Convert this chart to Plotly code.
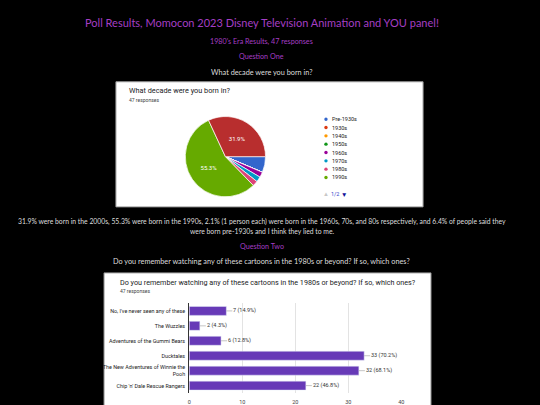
import plotly.graph_objects as go

W, H = 540, 405

# ---------------- Page texts ----------------
page_title = "Poll Results, Momocon 2023 Disney Television Animation and YOU panel!"
era_line = "1980's Era Results, 47 responses"
q1_heading = "Question One"
q1_text = "What decade were you born in?"
summary_lines = [
    "31.9% were born in the 2000s, 55.3% were born in the 1990s, 2.1% (1 person each) were born in the 1960s, 70s, and 80s respectively, and 6.4% of people said they",
    "were born pre-1930s and I think they lied to me.",
]
q2_heading = "Question Two"
q2_text = "Do you remember watching any of these cartoons in the 1980s or beyond? If so, which ones?"

# ---------------- Question 1 data ----------------
q1_chart_title = "What decade were you born in?"
responses_label = "47 responses"
total_responses = 47
decades = ["Pre-1930s", "1930s", "1940s", "1950s", "1960s", "1970s", "1980s", "1990s", "2000s"]
decade_counts = [3, 0, 0, 0, 1, 1, 1, 26, 15]
decade_colors = ["#3366cc", "#dc3912", "#ff9900", "#109618", "#990099",
                 "#0099c6", "#dd4477", "#66aa00", "#b82e2e"]
legend_page = "1/2"

# ---------------- Question 2 data ----------------
q2_chart_title = "Do you remember watching any of these cartoons in the 1980s or beyond? If so, which ones?"
cartoons = [
    "No, I've never seen any of these",
    "The Wuzzles",
    "Adventures of the Gummi Bears",
    "Ducktales",
    "The New Adventures of Winnie the<br>Pooh",
    "Chip 'n' Dale Rescue Rangers",
]
cartoon_counts = [7, 2, 6, 33, 32, 22]
x_ticks = [0, 10, 20, 30, 40]

PURPLE = "#a53ec4"
PAGE_FONT = "Lato"
CHART_FONT = "Roboto"


def px(x):
    return x / W


def py(y):
    return 1 - y / H


fig = go.Figure()

# Pie chart
pie_text = [f"{c / total_responses * 100:.1f}%" if c / total_responses > 0.1 else "" for c in decade_counts]
fig.add_trace(go.Pie(
    labels=decades, values=decade_counts, sort=False, direction="clockwise", rotation=90,
    marker=dict(colors=decade_colors, line=dict(color="white", width=0.7)),
    text=pie_text, textinfo="text", textposition="inside", insidetextorientation="horizontal",
    insidetextfont=dict(color="white", size=6, family=CHART_FONT),
    showlegend=False, hoverinfo="label+percent",
    domain=dict(x=[px(185), px(266)], y=[py(200), py(118)]),
))

# Bar chart
fig.add_trace(go.Bar(
    x=cartoon_counts, y=cartoons, orientation="h", width=0.6,
    marker=dict(color="#673ab7"), showlegend=False,
))

shapes = []
annotations = []

# White panels
shapes.append(dict(type="rect", xref="paper", yref="paper", x0=px(115), x1=px(425), y0=py(210), y1=py(83),
                   fillcolor="white", line=dict(color="#9a9a9a", width=1), layer="below"))
shapes.append(dict(type="rect", xref="paper", yref="paper", x0=px(103), x1=px(433), y0=py(420), y1=py(277),
                   fillcolor="white", line=dict(color="#9a9a9a", width=1), layer="below"))


def page_text(txt, y, size, color, x=262):
    annotations.append(dict(text=txt, x=px(x), y=py(y), xref="paper", yref="paper", showarrow=False,
                            xanchor="center", yanchor="middle",
                            font=dict(family=PAGE_FONT, size=size, color=color)))


page_text(page_title, 22.7, 11, PURPLE)
page_text(era_line, 41.7, 7.2, PURPLE)
page_text(q1_heading, 57.7, 7.2, PURPLE)
page_text(q1_text, 73.3, 7.3, "#dddddd")
page_text(summary_lines[0], 224.7, 6.8, "#dddddd")
page_text(summary_lines[1], 234.2, 6.8, "#dddddd")
page_text(q2_heading, 249.7, 7.2, PURPLE)
page_text(q2_text, 265.7, 7.3, "#dddddd")


def chart_text(txt, x, y, size, color):
    annotations.append(dict(text=txt, x=px(x), y=py(y), xref="paper", yref="paper", showarrow=False,
                            xanchor="left", yanchor="middle",
                            font=dict(family=CHART_FONT, size=size, color=color)))


chart_text(q1_chart_title, 126, 92, 7.3, "#202124")
chart_text(responses_label, 126, 101, 5, "#444444")
chart_text(q2_chart_title, 117, 287, 7.2, "#202124")
chart_text(responses_label, 117, 295.5, 5, "#444444")

# Manual legend for the pie (first page)
for i, (lab, col) in enumerate(zip(decades[:8], decade_colors[:8])):
    cy = 121 + i * 8.45
    shapes.append(dict(type="circle", xref="paper", yref="paper",
                       x0=px(325.3), x1=px(328.7), y0=py(cy + 1.7), y1=py(cy - 1.7),
                       fillcolor=col, line=dict(width=0)))
    chart_text(lab, 331, cy, 5.5, "#222222")

annotations.append(dict(text="▲", x=px(327), y=py(197), xref="paper", yref="paper", showarrow=False,
                        font=dict(size=6, color="#c8c8c8")))
annotations.append(dict(text=legend_page, x=px(336), y=py(197), xref="paper", yref="paper", showarrow=False,
                        font=dict(size=5.5, color="#3344cc", family=CHART_FONT)))
annotations.append(dict(text="▼", x=px(345), y=py(197), xref="paper", yref="paper", showarrow=False,
                        font=dict(size=6.5, color="#10109a")))

# Bar value labels with connector
for cat, val in zip(cartoons, cartoon_counts):
    annotations.append(dict(
        text=f"{val} ({val / total_responses * 100:.1f}%)", x=val, y=cat, xref="x", yref="y",
        showarrow=True, arrowhead=0, arrowwidth=0.6, arrowcolor="#9e9e9e", ax=6, ay=0,
        xanchor="left", yanchor="middle", borderpad=0,
        font=dict(family=CHART_FONT, size=5.5, color="#333333")))

fig.update_layout(
    width=W, height=H, margin=dict(l=0, r=0, t=0, b=0),
    paper_bgcolor="black", plot_bgcolor="rgba(0,0,0,0)",
    shapes=shapes, annotations=annotations,
    xaxis=dict(domain=[px(189), px(403)], range=[0, 40], tickvals=x_ticks, showgrid=True,
               gridcolor="#e3e3e3", gridwidth=0.7, zeroline=False, showline=False, ticks="",
               ticklabelstandoff=4,
               tickfont=dict(family=CHART_FONT, size=5.5, color="#444444"), fixedrange=True,
               mirror=False),
    yaxis=dict(domain=[py(399), py(308)], autorange="reversed", showgrid=False,
               showline=True, linecolor="#333333", linewidth=1, ticks="", ticklabelstandoff=2,
               tickfont=dict(family=CHART_FONT, size=5.4, color="#222222"), fixedrange=True),
    bargap=0.4,
)

fig.write_html(
    "out.html",
    config={"displayModeBar": False},
    post_script="document.body.style.margin='0';document.body.style.background='black';document.body.style.overflow='hidden';",
)
